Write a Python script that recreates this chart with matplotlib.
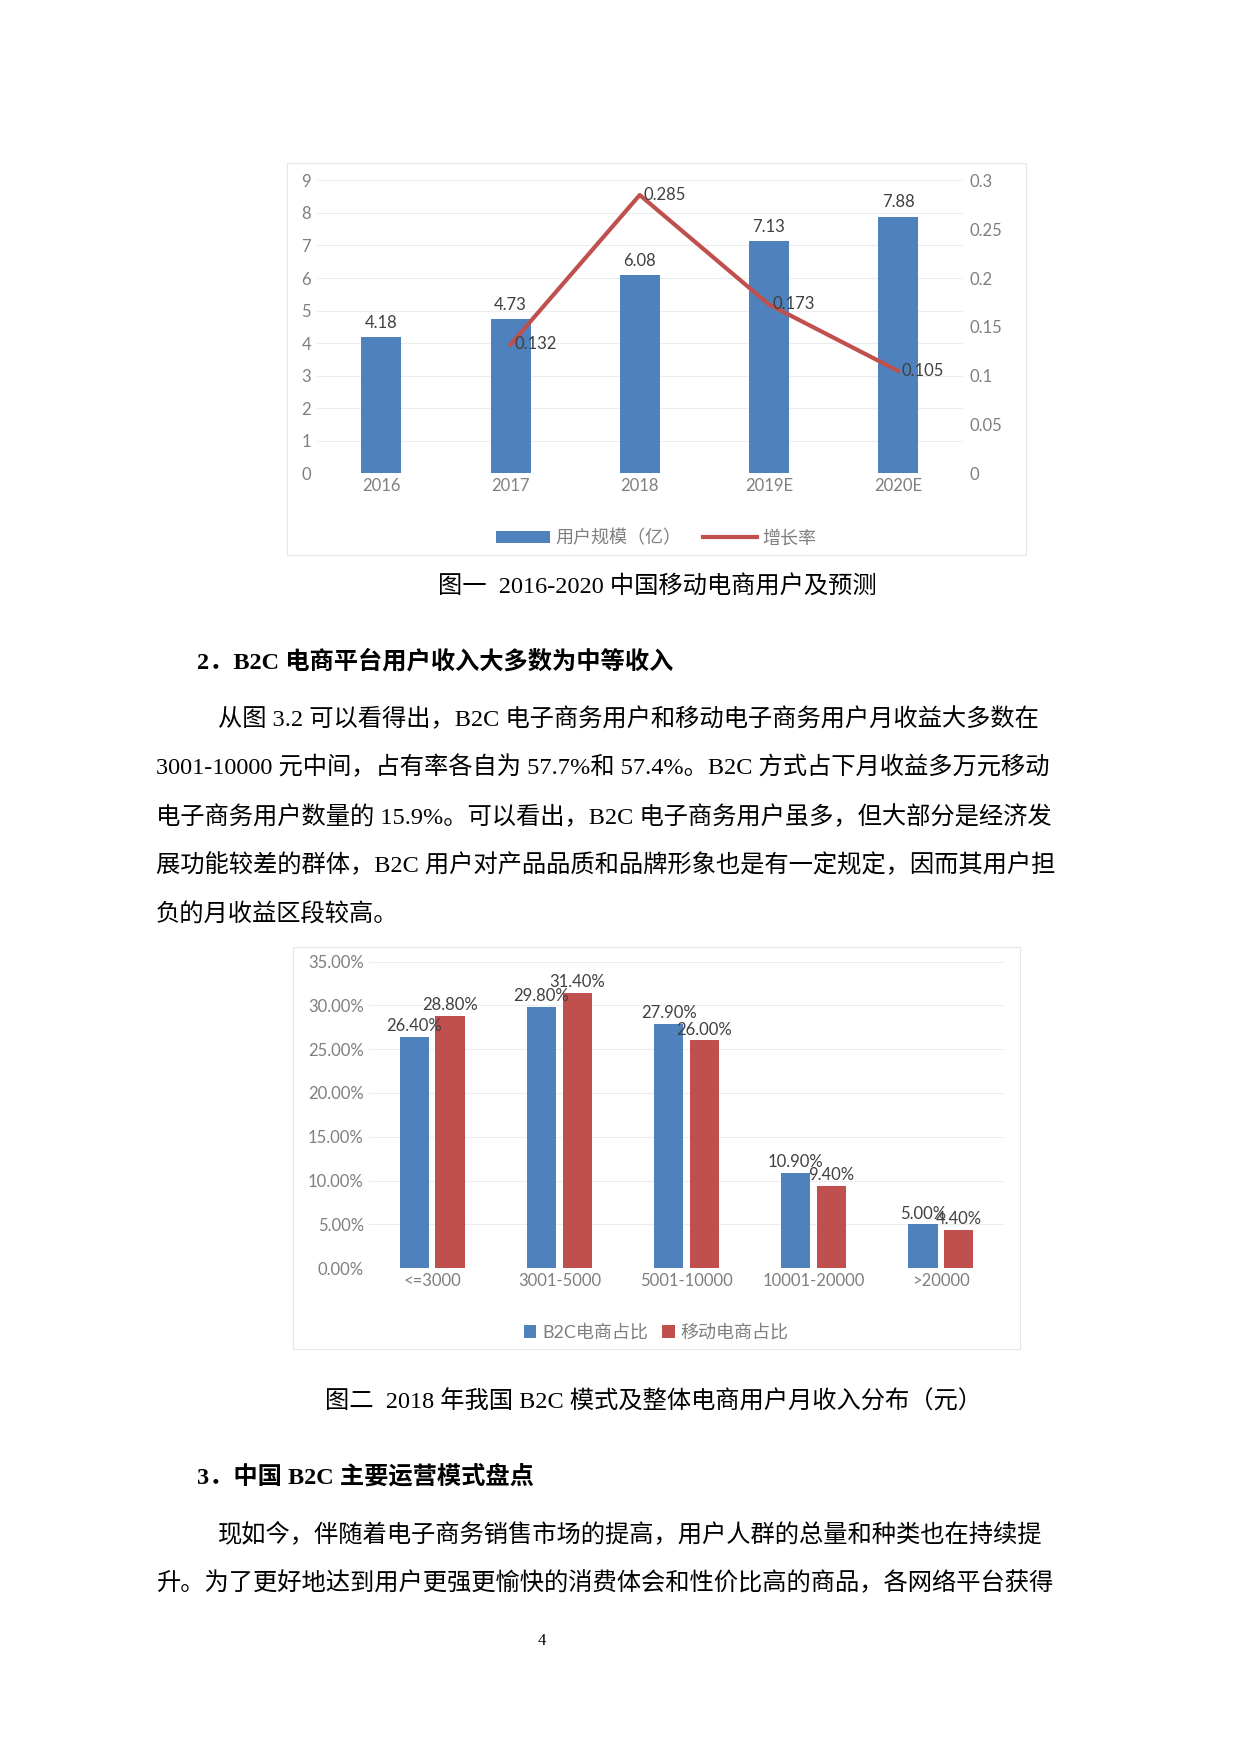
import matplotlib
matplotlib.use("Agg")
import matplotlib.pyplot as plt
from matplotlib.patches import Rectangle
import numpy as np

years = ["2016", "2017", "2018", "2019E", "2020E"]
users = [4.18, 4.73, 6.08, 7.13, 7.88]
growth_x = [1, 2, 3, 4]
growth = [0.132, 0.285, 0.173, 0.105]

income_cats = ["<=3000", "3001-5000", "5001-10000", "10001-20000", ">20000"]
b2c = [26.4, 29.8, 27.9, 10.9, 5.0]
mobile = [28.8, 31.4, 26.0, 9.4, 4.4]

BLUE = "#4F81BD"
RED = "#C0504D"
GRAY = "#7F7F7F"
CF = ["Lato", "Noto Sans CJK SC"]
BF = ["Liberation Serif", "Noto Sans CJK SC"]
FS = 17.5

W, H = 1100.0, 1556.0
def fx(x): return x / W
def fy(y): return 1 - y / H

fig = plt.figure(figsize=(12.4, 17.54), dpi=100)

def box(x0, y0, x1, y1):
    fig.patches.append(Rectangle((fx(x0), fy(y1)), fx(x1) - fx(x0), fy(y0) - fy(y1),
                                 transform=fig.transFigure, fill=False, ec="#E6E6E6", lw=0.8))

def style(ax):
    for s in ax.spines.values():
        s.set_visible(False)
    ax.tick_params(length=0, colors=GRAY, labelsize=12)
    for l in ax.get_xticklabels() + ax.get_yticklabels():
        l.set_fontfamily(CF)

# Chart 1
box(255, 145, 910, 492)
ax = fig.add_axes([fx(281), fy(420), fx(854) - fx(281), fy(160) - fy(420)])
x = np.arange(len(years))
ax.bar(x, users, width=0.31, color=BLUE, label="用户规模（亿）", zorder=2)
ax.set_xlim(-0.5, 4.5)
ax.set_ylim(0, 9)
ax.set_yticks(range(10))
ax.set_xticks(x)
ax.set_xticklabels(years)
ax.grid(axis="y", color="#EDEDED", lw=0.8, zorder=0)
ax.tick_params(axis="y", pad=4)
for i, v in enumerate(users):
    ax.text(i, v + 0.2, f"{v:.2f}", ha="center", va="bottom", fontsize=12, color="#404040", family=CF)
style(ax)
ax2 = ax.twinx()
ax2.plot(growth_x, growth, color=RED, lw=3, label="增长率")
ax2.set_ylim(0, 0.3)
ax2.set_yticks([0, 0.05, 0.1, 0.15, 0.2, 0.25, 0.3])
ax2.set_yticklabels(["0", "0.05", "0.1", "0.15", "0.2", "0.25", "0.3"])
ax2.tick_params(axis="y", pad=5)
for xi, v in zip(growth_x, growth):
    ax2.text(xi + 0.03, v, f"{v:g}", ha="left", va="center", fontsize=12, color="#404040", family=CF)
style(ax2)
h1, l1 = ax.get_legend_handles_labels()
h2, l2 = ax2.get_legend_handles_labels()
fig.legend(h1 + h2, l1 + l2, loc="center", bbox_to_anchor=(fx(582), fy(477)), ncol=2, frameon=False,
           prop={"family": CF, "size": 13}, labelcolor=GRAY, handlelength=3, columnspacing=1.2, handletextpad=0.3)

fig.text(fx(583), fy(521), "图一  2016-2020 中国移动电商用户及预测", ha="center", va="center", fontsize=FS, family=BF)
fig.text(fx(175), fy(587), "2．B2C 电商平台用户收入大多数为中等收入", ha="left", va="center", fontsize=FS, family=BF, weight="bold")

para = [
    (193, "从图 3.2 可以看得出，B2C 电子商务用户和移动电子商务用户月收益大多数在"),
    (138, "3001-10000 元中间，占有率各自为 57.7%和 57.4%。B2C 方式占下月收益多万元移动"),
    (138, "电子商务用户数量的 15.9%。可以看出，B2C 电子商务用户虽多，但大部分是经济发"),
    (138, "展功能较差的群体，B2C 用户对产品品质和品牌形象也是有一定规定，因而其用户担"),
    (138, "负的月收益区段较高。"),
]
for (x0, t), y in zip(para, [638, 681, 725, 768, 812]):
    fig.text(fx(x0), fy(y), t, ha="left", va="center", fontsize=FS, family=BF)

# Chart 2
box(260, 840, 905, 1197)
bx = fig.add_axes([fx(327), fy(1125), fx(891) - fx(327), fy(853) - fy(1125)])
x = np.arange(len(income_cats))
bx.bar(x - 0.14, b2c, width=0.23, color=BLUE, label="B2C电商占比", zorder=2)
bx.bar(x + 0.14, mobile, width=0.23, color=RED, label="移动电商占比", zorder=2)
bx.set_xlim(-0.5, 4.5)
bx.set_ylim(0, 35)
bx.set_yticks(np.arange(0, 36, 5))
bx.set_yticklabels([f"{v:.2f}%" for v in np.arange(0, 36, 5)])
bx.set_xticks(x)
bx.set_xticklabels(income_cats)
bx.grid(axis="y", color="#EDEDED", lw=0.8, zorder=0)
for i in range(len(x)):
    bx.text(i - 0.14, b2c[i] + 0.3, f"{b2c[i]:.2f}%", ha="center", va="bottom", fontsize=12, color="#404040", family=CF)
    bx.text(i + 0.14, mobile[i] + 0.3, f"{mobile[i]:.2f}%", ha="center", va="bottom", fontsize=12, color="#404040", family=CF)
style(bx)
bx.legend(loc="center", bbox_to_anchor=(fx(582), fy(1182)), bbox_transform=fig.transFigure, ncol=2, frameon=False,
          prop={"family": CF, "size": 13}, labelcolor=GRAY, handlelength=0.7, handleheight=0.7, columnspacing=0.8, handletextpad=0.3)

fig.text(fx(580), fy(1244), "图二  2018 年我国 B2C 模式及整体电商用户月收入分布（元）", ha="center", va="center", fontsize=FS, family=BF)
fig.text(fx(175), fy(1310), "3．中国 B2C 主要运营模式盘点", ha="left", va="center", fontsize=FS, family=BF, weight="bold")
fig.text(fx(193), fy(1362), "现如今，伴随着电子商务销售市场的提高，用户人群的总量和种类也在持续提", ha="left", va="center", fontsize=FS, family=BF)
fig.text(fx(138), fy(1405), "升。为了更好地达到用户更强更愉快的消费体会和性价比高的商品，各网络平台获得", ha="left", va="center", fontsize=FS, family=BF)
fig.text(fx(481), fy(1456), "4", ha="center", va="center", fontsize=12, family=BF)

fig.savefig("out.png", dpi=100)
